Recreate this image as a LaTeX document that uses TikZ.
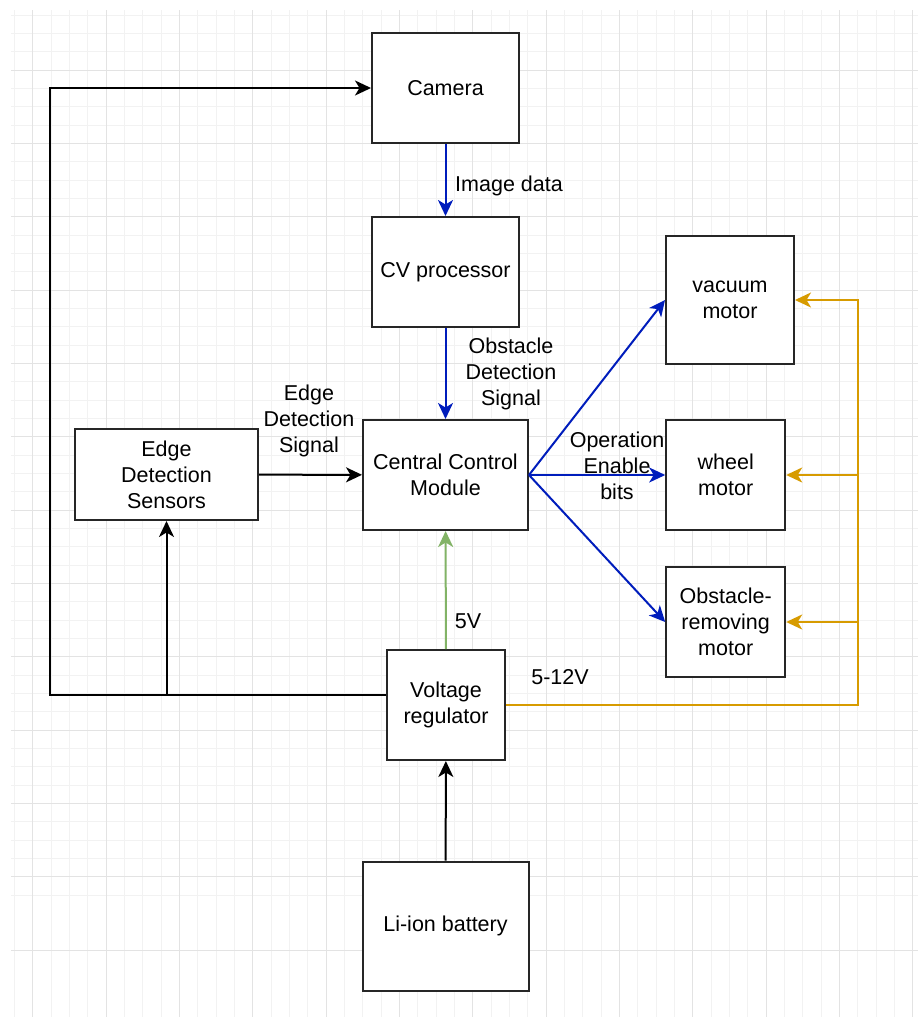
\documentclass[tikz,border=0pt]{standalone}
\usepackage{fontspec}
\setmainfont{Liberation Sans}
\usetikzlibrary{arrows.meta}
\definecolor{dblue}{HTML}{001DBC}
\definecolor{dgreen}{HTML}{82B366}
\definecolor{dorange}{HTML}{D79B00}
\definecolor{gminor}{HTML}{F2F2F2}
\definecolor{gmajor}{HTML}{E3E3E3}
\begin{document}
\begin{tikzpicture}[x=1pt,y=-1pt,
  font=\fontsize{21.5}{26}\selectfont,
  box/.style={draw=black!85,line width=2pt,fill=white,align=center,inner sep=2pt},
  lbl/.style={align=center,inner sep=0pt},
  tip/.style={-{Stealth[length=16pt,width=15pt,inset=4.5pt]}},
  conn/.style={tip,line width=2pt},
  bconn/.style={conn,draw=dblue},
  gconn/.style={conn,draw=dgreen},
  oconn/.style={conn,draw=dorange},
  kconn/.style={conn,draw=black}
]
\useasboundingbox (0,0) rectangle (918,1017);
\fill[white] (0,0) rectangle (918,1017);
\begin{scope}
\clip (11,10) rectangle (918,1017);
\foreach \i in {-6,...,45} {
  \draw[gminor,line width=0.8pt] ({106+18.333*\i},10) -- ({106+18.333*\i},1017);
  \draw[gminor,line width=0.8pt] (11,{70+18.333*\i}) -- (918,{70+18.333*\i});
}
\foreach \i in {-2,...,12} {
  \draw[gmajor,line width=0.8pt] ({106+73.333*\i},10) -- ({106+73.333*\i},1017);
  \draw[gmajor,line width=0.8pt] (11,{70+73.333*\i}) -- (918,{70+73.333*\i});
}
\end{scope}

% nodes
\node[box,minimum width=147,minimum height=110] (cam) at (445.5,88) {Camera};
\node[box,minimum width=147,minimum height=110] (cv) at (445.5,272) {CV processor};
\node[box,minimum width=165,minimum height=110] (ccm) at (445.5,475) {Central Control\\Module};
\node[box,minimum width=183,minimum height=91] (eds) at (166.5,474.5) {Edge\\Detection\\Sensors};
\node[box,minimum width=128,minimum height=128] (vac) at (730,300) {vacuum\\motor};
\node[box,minimum width=119,minimum height=110] (whl) at (725.7,475) {wheel\\motor};
\node[box,minimum width=119,minimum height=110] (obs) at (725.7,622) {Obstacle-\\removing\\motor};
\node[box,minimum width=118,minimum height=110] (vr) at (446,705) {Voltage\\regulator};
\node[box,minimum width=166,minimum height=129] (bat) at (445.5,926) {Li-ion battery};

% coordinates
\coordinate (lc) at (50,695);
\coordinate (lt) at (50,88);
\coordinate (eb) at (166.5,695);
\coordinate (ro) at (858,705);
\coordinate (rt) at (858,300);
\coordinate (rm) at (858,475);
\coordinate (rb) at (858,622);

% connectors
\draw[bconn] (cam) -- (cv);
\draw[bconn] (cv) -- (ccm);
\draw[kconn] (eds) -- (ccm);
\draw[bconn] (ccm.east) -- (vac.west);
\draw[bconn] (ccm.east) -- (whl.west);
\draw[bconn] (ccm.east) -- (obs.west);
\draw[gconn] (vr) -- (ccm);
\draw[kconn] (bat) -- (vr);
\draw[kconn] (vr.west |- lc) -- (lc) -- (lt) -- (cam.west);
\draw[kconn] (eb) -- (eds);
\draw[oconn] (vr.east) -- (ro) -- (rt) -- (vac.east);
\draw[oconn] (rm) -- (whl.east);
\draw[oconn] (rb) -- (obs.east);

% labels
\node[lbl,anchor=west] (limg) at (455,186) {Image data};
\node[lbl] (lobs) at (511,374) {Obstacle\\Detection\\Signal};
\node[lbl] (ledge) at (309,421) {Edge\\Detection\\Signal};
\node[lbl] (lop) at (617,466) {Operation\\Enable\\bits};
\node[lbl] (l5v) at (468,621) {5V};
\node[lbl] (l512) at (560,677) {5-12V};
\end{tikzpicture}
\end{document}
